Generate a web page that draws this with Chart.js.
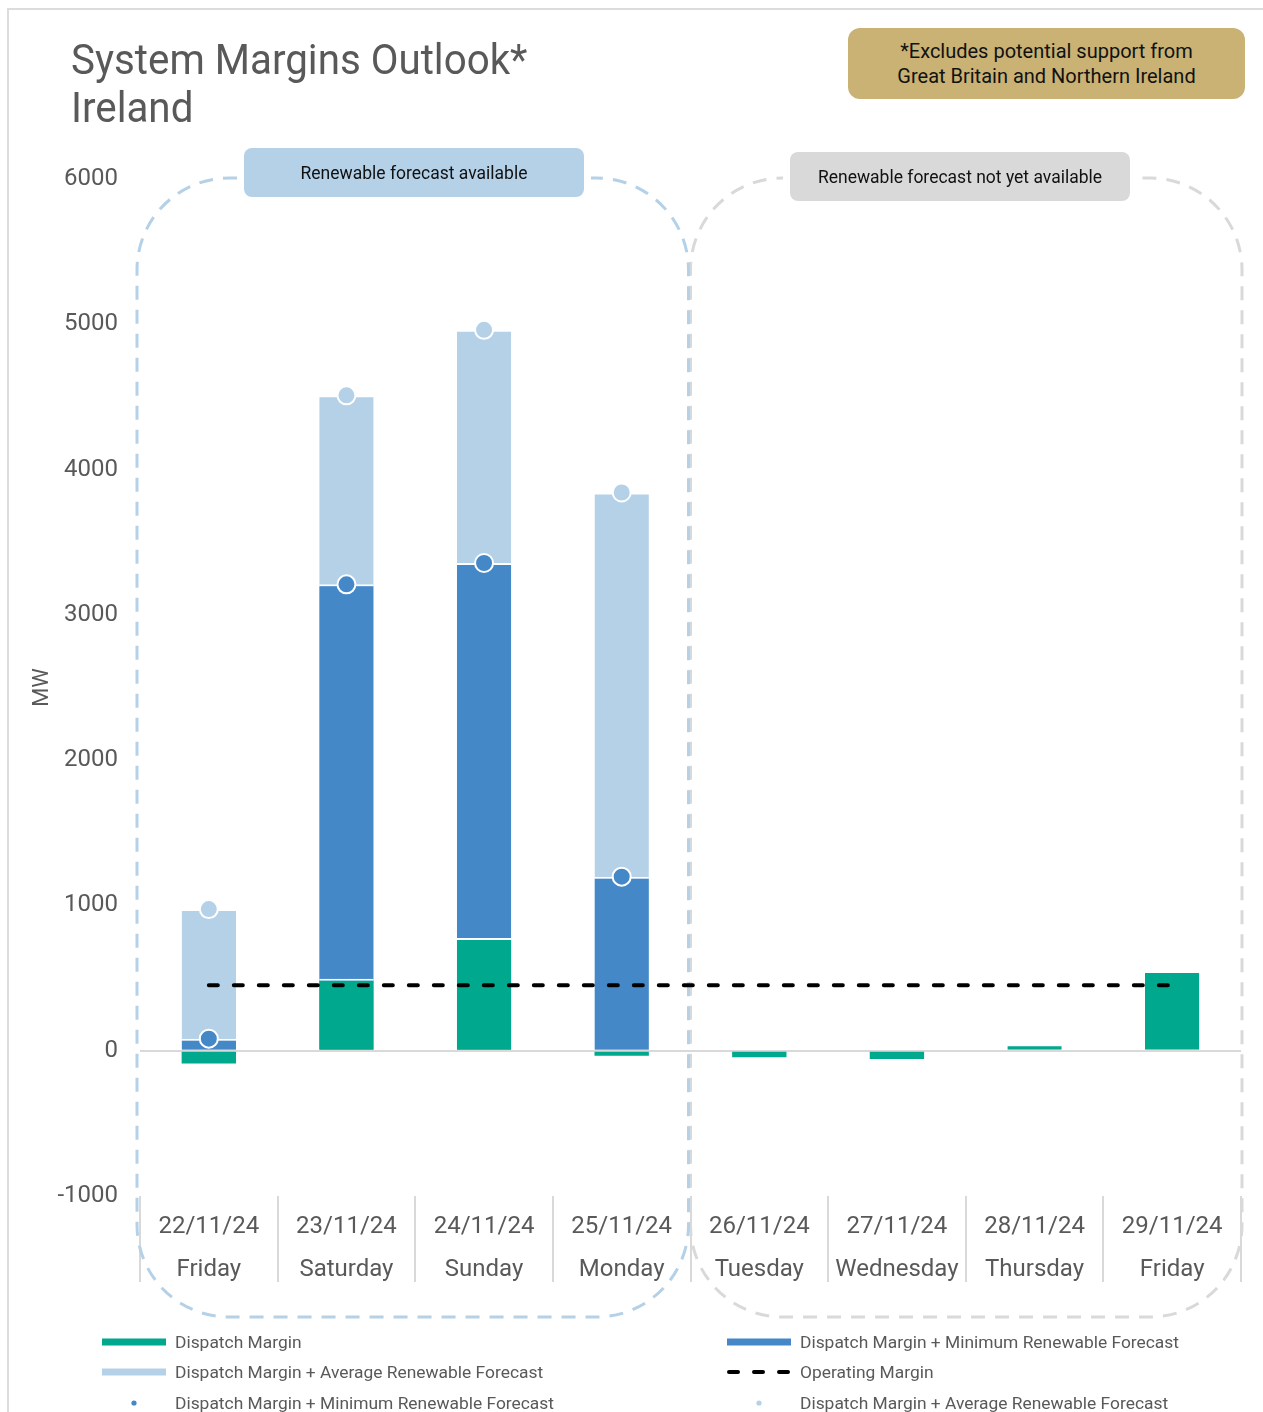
<!DOCTYPE html>
<html><head><meta charset="utf-8">
<script src="https://cdn.jsdelivr.net/npm/chart.js@4.4.1/dist/chart.umd.min.js"></script>
<style>
html,body{margin:0;padding:0;background:#fff;width:1263px;height:1412px;overflow:hidden;font-family:Roboto,"Noto Sans",sans-serif;}
#frame{position:absolute;left:7px;top:8px;width:1270px;height:1420px;border-left:2px solid #dcdcdc;border-top:2px solid #dcdcdc;}
#title{position:absolute;left:71px;top:36px;color:#595959;font-size:42px;line-height:48px;transform:scaleX(0.96);transform-origin:left top;white-space:nowrap;}
#note{position:absolute;left:848px;top:28px;width:397px;height:71px;background:#C9B274;border-radius:12px;color:#111;font-size:20px;line-height:25px;display:flex;align-items:center;justify-content:center;text-align:center;}
#wrap{position:absolute;left:0;top:0;width:1263px;height:1330px;}
.tag{position:absolute;border-radius:8px;font-size:17.5px;color:#111;display:flex;align-items:center;justify-content:center;box-shadow:0 0 0 7px #fff;}
#legend{position:absolute;left:0;top:1326px;width:1263px;height:90px;}
.li{position:absolute;height:31px;display:flex;align-items:center;color:#595959;font-size:17.4px;white-space:nowrap;}
.li svg{margin-right:9px;}
</style></head>
<body>
<div id="frame"></div>
<div id="wrap"><canvas id="c" width="1263" height="1330" style="width:1263px;height:1330px"></canvas></div>
<div id="title">System Margins Outlook*<br>Ireland</div>
<div id="note">*Excludes potential support from<br>Great Britain and Northern Ireland</div>
<div class="tag" style="left:244px;top:148px;width:340px;height:49px;background:#B4D1E8;">Renewable forecast available</div>
<div class="tag" style="left:790px;top:152px;width:340px;height:49px;background:#D9D9D9;">Renewable forecast not yet available</div>
<div id="legend"></div>
<script>
// ---- data ----
const dates = ['22/11/24','23/11/24','24/11/24','25/11/24','26/11/24','27/11/24','28/11/24','29/11/24'];
const days = ['Friday','Saturday','Sunday','Monday','Tuesday','Wednesday','Thursday','Friday'];
const dispatchMargin = [-88, 495, 775, -35, -45, -57, 44, 548];
const dmMinRenewable = [83, 3210, 3357, 1198, null, null, null, null];
const dmAvgRenewable = [975, 4511, 4962, 3842, null, null, null, null];
const operatingMargin = [450, 450, 450, 450, 450, 450, 450, 450];
const yTicks = {min: -1000, max: 6000, step: 1000};
const forecastAvailableCount = 4;

const GREEN = '#00A88E', BLUE = '#4488C8', LIGHT = '#B4D1E8', GREYTXT = '#595959';
const labels = dates.map((d, i) => [d, days[i]]);

const barCommon = {type: 'bar', grouped: false, categoryPercentage: 1, barPercentage: 0.395,
  borderColor: '#ffffff', borderWidth: {top: 2, left: 0, right: 0, bottom: 0}, borderSkipped: 'start'};

const datasets = [
  Object.assign({}, barCommon, {label: 'Dispatch Margin', data: dispatchMargin, backgroundColor: GREEN, order: 3, legendKind: 'bar'}),
  Object.assign({}, barCommon, {label: 'Dispatch Margin + Minimum Renewable Forecast', data: dmMinRenewable, backgroundColor: BLUE, order: 4, legendKind: 'bar'}),
  Object.assign({}, barCommon, {label: 'Dispatch Margin + Average Renewable Forecast', data: dmAvgRenewable, backgroundColor: LIGHT, order: 5, legendKind: 'bar'}),
  {type: 'line', label: 'Operating Margin', data: operatingMargin, borderColor: '#000', borderWidth: 4,
   borderDash: [9, 16], borderCapStyle: 'round', pointRadius: 0, fill: false, order: 2, legendKind: 'dash'},
  {type: 'line', label: 'Dispatch Margin + Minimum Renewable Forecast', data: dmMinRenewable, showLine: false,
   pointRadius: 9, pointHoverRadius: 9, pointBackgroundColor: BLUE, pointBorderColor: '#fff', pointBorderWidth: 2,
   borderColor: BLUE, order: 1, legendKind: 'dot'},
  {type: 'line', label: 'Dispatch Margin + Average Renewable Forecast', data: dmAvgRenewable, showLine: false,
   pointRadius: 9, pointHoverRadius: 9, pointBackgroundColor: LIGHT, pointBorderColor: '#fff', pointBorderWidth: 2,
   borderColor: LIGHT, order: 0, legendKind: 'dot'}
];

function roundRectPath(ctx, x, y, w, h, r) {
  ctx.beginPath();
  ctx.moveTo(x + r, y);
  ctx.lineTo(x + w - r, y);
  ctx.arc(x + w - r, y + r, r, -Math.PI / 2, 0);
  ctx.lineTo(x + w, y + h - r);
  ctx.arc(x + w - r, y + h - r, r, 0, Math.PI / 2);
  ctx.lineTo(x + r, y + h);
  ctx.arc(x + r, y + h - r, r, Math.PI / 2, Math.PI);
  ctx.lineTo(x, y + r);
  ctx.arc(x + r, y + r, r, Math.PI, Math.PI * 1.5);
  ctx.closePath();
}

const regionPlugin = {
  id: 'regions',
  beforeDatasetsDraw(chart) {
    const xs = chart.scales.x, ys = chart.scales.y, ctx = chart.ctx;
    const top = ys.getPixelForValue(yTicks.max) - 1;
    const bottom = xs.bottom + 15;
    const split = (xs.getPixelForValue(forecastAvailableCount - 1) + xs.getPixelForValue(forecastAvailableCount)) / 2;
    ctx.save();
    ctx.lineWidth = 3;
    ctx.setLineDash([14, 10]);
    ctx.strokeStyle = '#D9D9D9';
    roundRectPath(ctx, split, top, xs.right + 1 - split, bottom - top, 92);
    ctx.stroke();
    ctx.strokeStyle = LIGHT;
    roundRectPath(ctx, xs.left - 3, top, split - 2 - (xs.left - 3), bottom - top, 92);
    ctx.stroke();
    ctx.restore();
  }
};

const chart = new Chart(document.getElementById('c'), {
  data: {labels, datasets},
  plugins: [regionPlugin],
  options: {
    responsive: false, animation: false,
    layout: {padding: {top: 179, left: 0, right: 22, bottom: 28}},
    plugins: {legend: {display: false}, tooltip: {enabled: false}},
    scales: {
      x: {
        type: 'category', offset: true,
        grid: {offset: true, drawOnChartArea: false, drawTicks: true, tickLength: 86, color: '#D9D9D9', lineWidth: 2},
        border: {display: false},
        ticks: {padding: -77, color: GREYTXT, font: {family: 'Roboto', size: 24, lineHeight: 1.8}, maxRotation: 0, autoSkip: false},
        afterFit(s) { s.height = 106; }
      },
      y: {
        min: yTicks.min, max: yTicks.max,
        ticks: {stepSize: yTicks.step, padding: 22, color: GREYTXT, font: {family: 'Roboto', size: 24},
                callback: v => String(v)},
        grid: {drawTicks: false, lineWidth: 2, color: c => (c.tick && c.tick.value === 0) ? '#D9D9D9' : 'rgba(0,0,0,0)'},
        border: {display: false},
        title: {display: true, text: 'MW', color: GREYTXT, font: {family: 'Roboto', size: 22}, padding: {top: 29, bottom: 0}},
        afterFit(s) { s.width = 140; }
      }
    }
  }
});

// ---- HTML legend built from datasets ----
const legendOrder = [0, 1, 2, 3, 4, 5];
const leg = document.getElementById('legend');
legendOrder.forEach((di, k) => {
  const ds = chart.data.datasets[di];
  const col = k % 2, row = Math.floor(k / 2);
  const el = document.createElement('div');
  el.className = 'li';
  el.style.left = (col === 0 ? 102 : 727) + 'px';
  el.style.top = (row * 30.5) + 'px';
  let svg = '<svg width="64" height="12" viewBox="0 0 64 12">';
  if (ds.legendKind === 'bar') svg += '<line x1="0" y1="6" x2="64" y2="6" stroke="' + ds.backgroundColor + '" stroke-width="7"/>';
  else if (ds.legendKind === 'dash') svg += '<line x1="2" y1="6" x2="62" y2="6" stroke="#000" stroke-width="4" stroke-dasharray="9 16" stroke-linecap="round"/>';
  else svg += '<circle cx="32" cy="6" r="2.6" fill="' + ds.pointBackgroundColor + '"/>';
  svg += '</svg>';
  el.innerHTML = svg + '<span>' + ds.label + '</span>';
  leg.appendChild(el);
});
</script>
</body></html>
